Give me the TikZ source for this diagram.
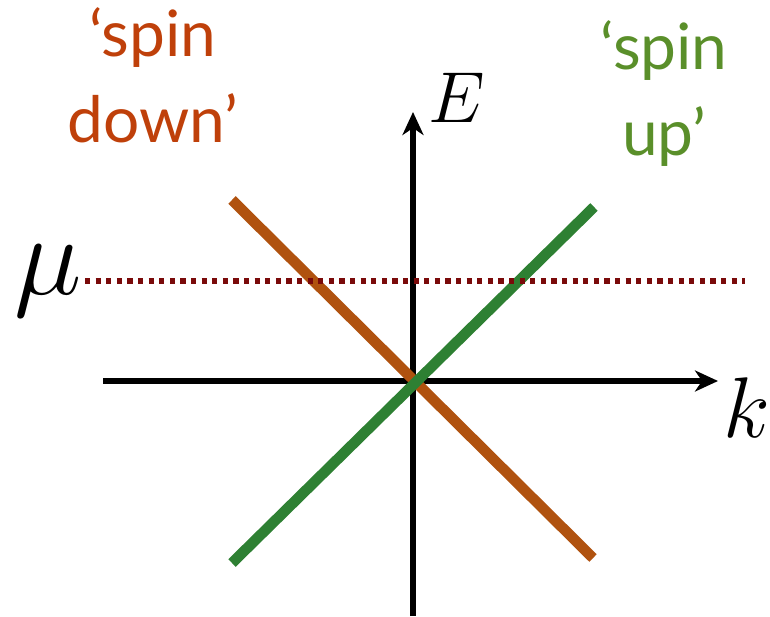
\documentclass[tikz,border=0pt]{standalone}
\usepackage{fontspec}
\newfontfamily\spinfont{Lato}
\usetikzlibrary{arrows.meta, positioning}

\definecolor{downtext}{HTML}{BF400A}
\definecolor{uptext}{HTML}{5A8F2A}
\definecolor{downline}{HTML}{B0520F}
\definecolor{upline}{HTML}{2E8033}
\definecolor{murule}{HTML}{7A0A0A}

\begin{document}
\begin{tikzpicture}[
  x=0.5pt, y=0.5pt,
  axis/.style   ={line width=3.3pt, -{Stealth[length=11.5pt, width=10.5pt, inset=3.5pt]}},
  band/.style   ={line width=5.3pt},
  spinlbl/.style={inner sep=0pt, align=center, anchor=north,
                  font=\spinfont\fontsize{32}{43}\selectfont},
  mathlbl/.style={inner sep=0pt, font=\Huge},
]
  \useasboundingbox (0,0) rectangle (770,616);

  % axes
  \coordinate (xl) at (103,235);  \coordinate (xr) at (718,235);
  \coordinate (yb) at (413,0);    \coordinate (yt) at (413,504);
  \draw[axis] (xl) -- (xr);
  \draw[axis] (yb) -- (yt);

  % the two bands
  \coordinate (d1) at (232,416);  \coordinate (d2) at (593,58);
  \coordinate (u1) at (232,53);   \coordinate (u2) at (594,409);
  \draw[band, downline] (d1) -- (d2);
  \draw[band, upline]   (u1) -- (u2);

  % chemical potential
  \coordinate (ml) at (85,335);   \coordinate (mr) at (745,335);
  \draw[murule, line width=2.6pt, dash pattern=on 2.6pt off 2.7pt] (ml) -- (mr);
  \node[mathlbl, left=1pt of ml, scale=2.3] (mu) {$\mu$};

  \node[mathlbl, anchor=base west, scale=1.45] (elbl) at (428,493) {$E$};
  \node[mathlbl, anchor=base west, scale=1.73] (klbl) at (723,178) {$k$};

  \node[spinlbl, text=downtext] (down) at (153,609) {‘spin\\down’};
  \node[spinlbl, text=uptext]   (up)   at (664,596) {‘spin\\up’};
\end{tikzpicture}
\end{document}
